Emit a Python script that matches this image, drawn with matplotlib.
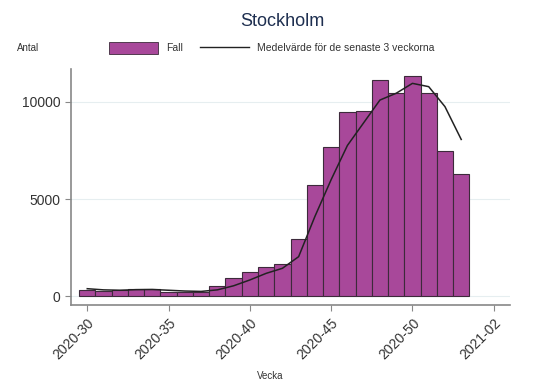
import matplotlib
matplotlib.use('Agg')
import matplotlib.pyplot as plt
from matplotlib.patches import Patch
from matplotlib.lines import Line2D

# week number (2020-30 .. 2020-53), 54/55 = 2021-01/02
weeks = list(range(30, 54))
cases = [310, 260, 290, 380, 345, 225, 225, 225, 520, 915, 1240, 1480,
         1640, 2950, 5740, 7690, 9500, 9530, 11120, 10470, 11330, 10470,
         7470, 6290]
mean3 = [380, 320, 300, 330, 340, 300, 260, 240, 320, 530, 830, 1170,
         1430, 2030, 4100, 6000, 7760, 8930, 10100, 10450, 10960, 10790,
         9760, 8070]
tick_pos = [30, 35, 40, 45, 50, 55]
tick_labels = ["2020-30", "2020-35", "2020-40", "2020-45", "2020-50", "2021-02"]

plt.rcParams['font.family'] = ['Liberation Sans', 'DejaVu Sans']

fig = plt.figure(figsize=(5.49, 3.91), dpi=100)
ax = fig.add_axes([71 / 549, 1 - 305 / 391, 439 / 549, 236 / 391])

ax.bar(weeks, cases, width=1.0, color='#a8489a', edgecolor='#3d2a3b',
       linewidth=0.8, zorder=2)
ax.plot(weeks, mean3, color='#222222', linewidth=1.1, zorder=3)

ax.set_xlim(29.0, 56.0)
ax.set_ylim(-460, 11700)
ax.set_yticks([0, 5000, 10000])
ax.set_xticks(tick_pos)
ax.set_xticklabels(tick_labels, rotation=45, ha='right', rotation_mode='anchor')
ax.tick_params(colors='#333333', labelsize=10, length=4, color='#888888')
ax.yaxis.grid(True, color='#e6eef0', linewidth=0.8, zorder=0)
for s in ['top', 'right']:
    ax.spines[s].set_visible(False)
for s in ['left', 'bottom']:
    ax.spines[s].set_color('#888888')
    ax.spines[s].set_linewidth(1.2)

fig.text(0.515, 1 - 21 / 391, "Stockholm", ha='center', va='center',
         fontsize=13, color='#1e2f50')
fig.text(17 / 549, 1 - 48 / 391, "Antal", ha='left', va='center',
         fontsize=7, color='#333333')
fig.text(270 / 549, 1 - 376 / 391, "Vecka", ha='center', va='center',
         fontsize=7, color='#333333')

handles = [Patch(facecolor='#a8489a', edgecolor='#3d2a3b', linewidth=0.6),
           Line2D([0], [0], color='#222222', linewidth=1.0)]
fig.legend(handles, ["Fall", "Medelvärde för de senaste 3 veckorna"],
           loc='center', bbox_to_anchor=(272 / 549, 1 - 48 / 391), ncol=2,
           frameon=False, fontsize=7.5, handlelength=4.7, handleheight=1.3,
           handletextpad=0.8, columnspacing=1.6, labelcolor='#333333')

plt.savefig('out.png', dpi=100)
